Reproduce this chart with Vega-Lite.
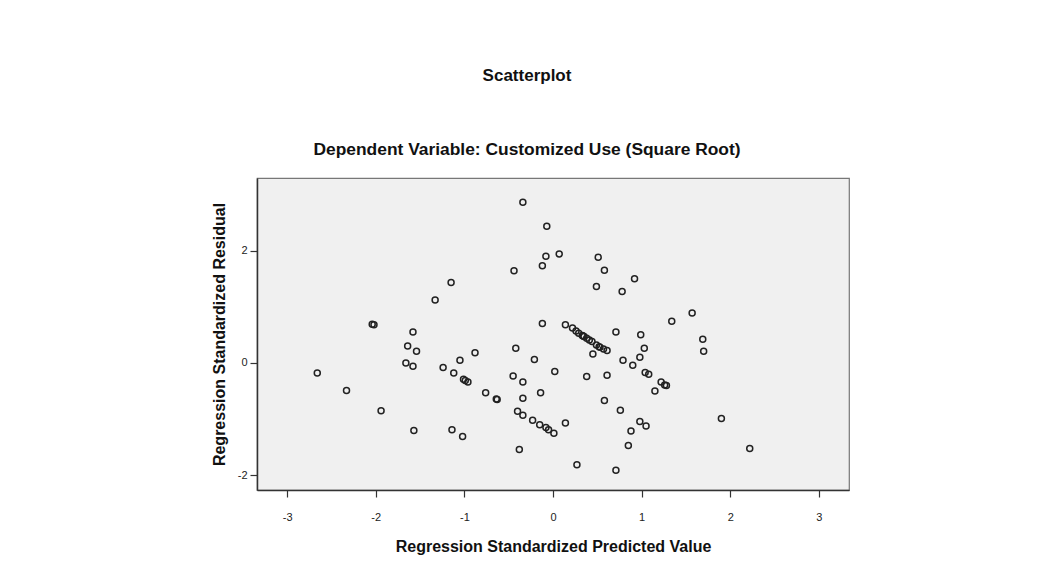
{
  "$schema": "https://vega.github.io/schema/vega-lite/v6.json",
  "width": 592,
  "height": 312,
  "autosize": {"type": "none"},
  "padding": {"left": 257, "top": 178, "right": 198, "bottom": 75},
  "background": "#ffffff",
  "title": {
    "text": "Scatterplot",
    "subtitle": "Dependent Variable: Customized Use (Square Root)",
    "anchor": "middle",
    "font": "Liberation Sans",
    "fontSize": 17,
    "fontWeight": "bold",
    "color": "#111111",
    "subtitleFont": "Liberation Sans",
    "subtitleFontSize": 17.4,
    "subtitleFontWeight": "bold",
    "subtitleColor": "#111111",
    "subtitlePadding": 56,
    "offset": 19,
    "dx": -26
  },
  "config": {
    "view": {"fill": "#f0f0f0", "stroke": "#777777", "strokeWidth": 1.2},
    "axis": {
      "grid": false,
      "domainColor": "#333333",
      "domainWidth": 1.5,
      "tickColor": "#333333",
      "tickWidth": 1.2,
      "tickSize": 7,
      "labelFont": "Liberation Sans",
      "labelFontSize": 11,
      "labelColor": "#222222",
      "labelExpr": "toString(datum.value)",
      "titleFont": "Liberation Sans",
      "titleFontSize": 16,
      "titleFontWeight": "bold",
      "titleColor": "#111111"
    }
  },
  "data": {
    "values": [
      {"predicted": -0.34, "residual": 2.86},
      {"predicted": -0.44, "residual": 1.64},
      {"predicted": -1.15, "residual": 1.43},
      {"predicted": -1.33, "residual": 1.12},
      {"predicted": -2.04, "residual": 0.69},
      {"predicted": -2.02, "residual": 0.68},
      {"predicted": -1.58, "residual": 0.55},
      {"predicted": -0.07, "residual": 2.43},
      {"predicted": -0.08, "residual": 1.90},
      {"predicted": 0.07, "residual": 1.94},
      {"predicted": -0.12, "residual": 1.73},
      {"predicted": 0.51, "residual": 1.88},
      {"predicted": 0.58, "residual": 1.65},
      {"predicted": 0.49, "residual": 1.36},
      {"predicted": 0.78, "residual": 1.27},
      {"predicted": 0.92, "residual": 1.50},
      {"predicted": -0.12, "residual": 0.70},
      {"predicted": 0.14, "residual": 0.68},
      {"predicted": 0.22, "residual": 0.62},
      {"predicted": 0.26, "residual": 0.57},
      {"predicted": 0.29, "residual": 0.53},
      {"predicted": 0.33, "residual": 0.49},
      {"predicted": 0.34, "residual": 0.48},
      {"predicted": 0.35, "residual": 0.47},
      {"predicted": 0.38, "residual": 0.44},
      {"predicted": 0.41, "residual": 0.41},
      {"predicted": 0.44, "residual": 0.38},
      {"predicted": 0.49, "residual": 0.32},
      {"predicted": 0.52, "residual": 0.29},
      {"predicted": 0.53, "residual": 0.28},
      {"predicted": 0.57, "residual": 0.25},
      {"predicted": 0.61, "residual": 0.22},
      {"predicted": 0.71, "residual": 0.55},
      {"predicted": 0.99, "residual": 0.50},
      {"predicted": 1.34, "residual": 0.74},
      {"predicted": 1.57, "residual": 0.89},
      {"predicted": 1.69, "residual": 0.42},
      {"predicted": 1.70, "residual": 0.21},
      {"predicted": -0.21, "residual": 0.06},
      {"predicted": 0.45, "residual": 0.16},
      {"predicted": 1.03, "residual": 0.26},
      {"predicted": 0.79, "residual": 0.05},
      {"predicted": 0.98, "residual": 0.10},
      {"predicted": 0.90, "residual": -0.04},
      {"predicted": 0.02, "residual": -0.15},
      {"predicted": 0.38, "residual": -0.24},
      {"predicted": 0.61, "residual": -0.22},
      {"predicted": 1.04, "residual": -0.17},
      {"predicted": 1.08, "residual": -0.20},
      {"predicted": 1.22, "residual": -0.34},
      {"predicted": 1.26, "residual": -0.39},
      {"predicted": 1.28, "residual": -0.40},
      {"predicted": 1.15, "residual": -0.50},
      {"predicted": -0.14, "residual": -0.53},
      {"predicted": 0.58, "residual": -0.67},
      {"predicted": 0.76, "residual": -0.84},
      {"predicted": -0.23, "residual": -1.02},
      {"predicted": -0.15, "residual": -1.10},
      {"predicted": -0.08, "residual": -1.15},
      {"predicted": -0.05, "residual": -1.19},
      {"predicted": 0.01, "residual": -1.25},
      {"predicted": 0.14, "residual": -1.07},
      {"predicted": 0.98, "residual": -1.04},
      {"predicted": 1.05, "residual": -1.12},
      {"predicted": 0.88, "residual": -1.21},
      {"predicted": 0.85, "residual": -1.47},
      {"predicted": 1.90, "residual": -0.99},
      {"predicted": 2.22, "residual": -1.52},
      {"predicted": 0.27, "residual": -1.81},
      {"predicted": 0.71, "residual": -1.91},
      {"predicted": -1.64, "residual": 0.30},
      {"predicted": -1.54, "residual": 0.21},
      {"predicted": -1.66, "residual": 0.00},
      {"predicted": -1.58, "residual": -0.06},
      {"predicted": -2.66, "residual": -0.18},
      {"predicted": -2.33, "residual": -0.49},
      {"predicted": -1.94, "residual": -0.85},
      {"predicted": -1.57, "residual": -1.20},
      {"predicted": -1.24, "residual": -0.08},
      {"predicted": -1.12, "residual": -0.18},
      {"predicted": -1.05, "residual": 0.05},
      {"predicted": -0.88, "residual": 0.18},
      {"predicted": -1.01, "residual": -0.29},
      {"predicted": -0.99, "residual": -0.31},
      {"predicted": -0.96, "residual": -0.34},
      {"predicted": -0.76, "residual": -0.53},
      {"predicted": -0.64, "residual": -0.64},
      {"predicted": -0.63, "residual": -0.65},
      {"predicted": -1.14, "residual": -1.19},
      {"predicted": -1.02, "residual": -1.31},
      {"predicted": -0.42, "residual": 0.26},
      {"predicted": -0.45, "residual": -0.23},
      {"predicted": -0.34, "residual": -0.34},
      {"predicted": -0.34, "residual": -0.63},
      {"predicted": -0.40, "residual": -0.86},
      {"predicted": -0.34, "residual": -0.93},
      {"predicted": -0.38, "residual": -1.54}
    ]
  },
  "mark": {
    "type": "point",
    "shape": "circle",
    "filled": false,
    "size": 36,
    "stroke": "#222222",
    "strokeWidth": 1.5,
    "opacity": 1
  },
  "encoding": {
    "x": {
      "field": "predicted",
      "type": "quantitative",
      "title": "Regression Standardized Predicted Value",
      "scale": {"domain": [-3.34, 3.34], "nice": false, "zero": false},
      "axis": {"values": [-3, -2, -1, 0, 1, 2, 3], "labelPadding": 14, "titlePadding": 16}
    },
    "y": {
      "field": "residual",
      "type": "quantitative",
      "title": "Regression Standardized Residual",
      "scale": {"domain": [-2.26, 3.29], "nice": false, "zero": false},
      "axis": {"values": [-2, 0, 2], "labelPadding": 3, "titlePadding": 10}
    }
  }
}
